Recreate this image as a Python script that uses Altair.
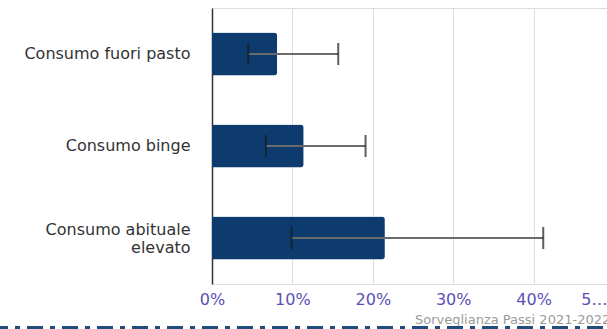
import altair as alt
import pandas as pd

categories = ["Consumo fuori pasto", "Consumo binge", "Consumo abituale elevato"]
values = [0.081, 0.114, 0.215]
lower = [0.045, 0.067, 0.099]
upper = [0.157, 0.191, 0.412]
footer = "Sorveglianza Passi 2021-2022"

df = pd.DataFrame({"cat": categories, "val": values, "lo": lower, "hi": upper})

xscale = alt.Scale(domain=[0, 0.5], range=[0, 402], nice=False)
yscale = alt.Scale(domain=categories, paddingInner=0.53, paddingOuter=0.265)

label_expr = ("datum.label == 'Consumo abituale elevato' ? "
              "['Consumo abituale', 'elevato'] : datum.label")

x_axis = alt.Axis(
    format="%", values=[0, 0.1, 0.2, 0.3, 0.4, 0.5], title=None,
    domain=False, ticks=False, grid=True, gridColor="#dedede", gridWidth=1,
    labelColor="#5a50b5", labelFont="DejaVu Sans", labelFontSize=16,
    labelPadding=7,
    labelExpr="datum.value >= 0.5 ? '5…' : datum.label",
    labelAlign={"condition": {"test": "datum.value >= 0.5", "value": "right"}, "value": "center"},
    labelOffset={"condition": {"test": "datum.value >= 0.5", "value": -7}, "value": 0},
)
y_axis = alt.Axis(
    title=None, ticks=False, domain=True, domainColor="#333333", domainWidth=1.5,
    grid=False, labelFont="DejaVu Sans", labelFontSize=16, labelColor="#333333",
    labelPadding=22, labelExpr=label_expr, labelLineHeight=18, labelLimit=300,
    labelOffset={"condition": {"test": "datum.value == 'Consumo abituale elevato'", "value": -8},
                 "value": 0},
)

base = alt.Chart(df)

bars = base.mark_bar(color="#0d3b6e", cornerRadiusEnd=3).encode(
    x=alt.X("val:Q", scale=xscale, axis=x_axis),
    y=alt.Y("cat:N", scale=yscale, axis=y_axis, sort=categories),
)

err_line = base.mark_rule(color="#6b6b6b", strokeWidth=1.8).encode(
    x=alt.X("lo:Q", scale=xscale), x2="hi:Q",
    y=alt.Y("cat:N", scale=yscale, sort=categories),
)

cap_lo = base.mark_tick(color="#1a1a1a", thickness=2, size=22).encode(
    x=alt.X("lo:Q", scale=xscale),
    y=alt.Y("cat:N", scale=yscale, sort=categories),
)
cap_hi = base.mark_tick(color="#1a1a1a", thickness=2, size=22).encode(
    x=alt.X("hi:Q", scale=xscale),
    y=alt.Y("cat:N", scale=yscale, sort=categories),
)

foot_df = pd.DataFrame({"t": [footer]})
foot = alt.Chart(foot_df).mark_text(
    align="left", baseline="alphabetic", font="DejaVu Sans", fontSize=13, color="#9a9a9a"
).encode(text="t:N", x=alt.value(203), y=alt.value(316))

dash = alt.Chart(foot_df).mark_rule(
    color="#1f4e7d", strokeWidth=4, strokeDash=[16, 7, 5, 7], strokeDashOffset=8
).encode(x=alt.value(-212), x2=alt.value(400), y=alt.value(320))

chart = alt.layer(bars, err_line, cap_lo, cap_hi, foot, dash).properties(
    width=395, height=276,
    autosize=alt.AutoSizeParams(type="none"),
    padding={"left": 212, "top": 8, "right": 0, "bottom": 45},
).configure_view(stroke=None).configure(background="white")

chart.save("out.html", embed_options={"renderer": "svg", "actions": False})
